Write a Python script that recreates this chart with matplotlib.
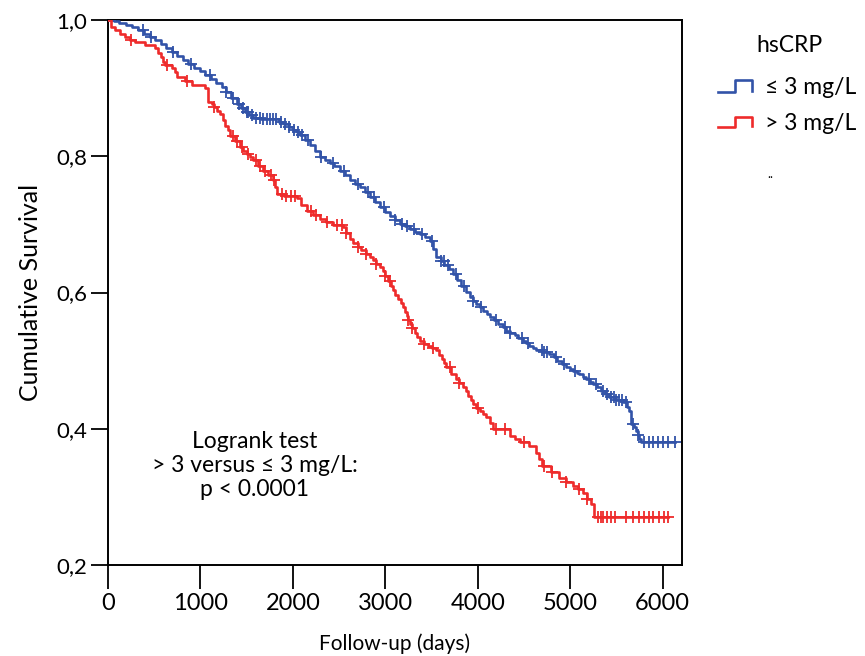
import matplotlib
matplotlib.use("Agg")
import matplotlib.pyplot as plt
import numpy as np
from matplotlib.lines import Line2D

plt.rcParams['font.family'] = ['Lato', 'DejaVu Sans']

# ---- data ----
group_labels = ["\u2264 3 mg/L", "> 3 mg/L"]
legend_title = "hsCRP"

low_times = [0, 60, 120, 200, 260, 325, 390, 450, 510, 570, 630, 690, 750, 810, 870, 930, 990,
             1050, 1110, 1170, 1230, 1280, 1330, 1393, 1440, 1480, 1530, 1570, 1650, 1850, 1900,
             1960, 2000, 2040, 2077, 2130, 2185, 2240, 2293, 2350, 2400, 2450, 2508, 2560, 2617,
             2670, 2725, 2780, 2830, 2885, 2940, 3000, 3050, 3100, 3157, 3210, 3270, 3320, 3373,
             3430, 3480, 3520, 3553, 3600, 3640, 3690, 3730, 3780, 3820, 3870, 3913, 3950, 3985,
             4020, 4060, 4100, 4130, 4180, 4220, 4270, 4310, 4350, 4400, 4440, 4488, 4520, 4560,
             4600, 4633, 4700, 4776, 4820, 4860, 4910, 4957, 5000, 5030, 5070, 5100, 5140, 5170,
             5210, 5244, 5290, 5330, 5380, 5425, 5500, 5568, 5610, 5640, 5660, 5690, 5712, 5730,
             5748, 5766]
low_surv = [1.0, 0.998, 0.995, 0.992, 0.989, 0.985, 0.980, 0.975, 0.970, 0.965, 0.959, 0.953,
            0.947, 0.942, 0.936, 0.930, 0.925, 0.919, 0.913, 0.908, 0.902, 0.894, 0.886, 0.877,
            0.871, 0.865, 0.860, 0.856, 0.855, 0.851, 0.848, 0.843, 0.838, 0.835, 0.831, 0.824,
            0.816, 0.808, 0.799, 0.795, 0.790, 0.785, 0.779, 0.772, 0.765, 0.760, 0.755, 0.748,
            0.740, 0.733, 0.725, 0.718, 0.712, 0.707, 0.701, 0.697, 0.693, 0.689, 0.686, 0.681,
            0.676, 0.664, 0.652, 0.646, 0.640, 0.634, 0.627, 0.618, 0.610, 0.601, 0.593, 0.588,
            0.583, 0.578, 0.573, 0.568, 0.564, 0.559, 0.554, 0.549, 0.544, 0.541, 0.537, 0.533,
            0.529, 0.526, 0.522, 0.518, 0.515, 0.513, 0.510, 0.505, 0.500, 0.495, 0.490, 0.487,
            0.485, 0.482, 0.480, 0.476, 0.473, 0.469, 0.466, 0.461, 0.456, 0.451, 0.446, 0.442,
            0.439, 0.432, 0.426, 0.407, 0.402, 0.397, 0.391, 0.385, 0.380]
low_end = 6130
low_censor = [380, 470, 700, 900, 1100, 1280, 1350, 1420, 1460, 1500, 1520, 1560, 1600, 1640,
              1680, 1720, 1750, 1780, 1820, 1870, 1910, 1960, 2010, 2060, 2100, 2160, 2300,
              2430, 2550, 2700, 2810, 2880, 2990, 3100, 3180, 3230, 3310, 3400, 3500, 3600,
              3630, 3680, 3770, 3850, 3950, 4040, 4200, 4290, 4350, 4480, 4540, 4690, 4720,
              4750, 4850, 4930, 5050, 5200, 5280, 5350, 5400, 5440, 5470, 5500, 5530, 5560,
              5600, 5680, 5730, 5800, 5850, 5900, 5950, 6000, 6060, 6130]

high_times = [0, 30, 80, 130, 185, 240, 295, 400, 510, 540, 570, 600, 620, 690, 720, 745, 830,
              907, 1050, 1083, 1120, 1150, 1180, 1213, 1240, 1267, 1295, 1320, 1375, 1430, 1465,
              1500, 1535, 1570, 1625, 1680, 1730, 1785, 1805, 1825, 1900, 2040, 2090, 2150, 2220,
              2293, 2360, 2435, 2543, 2580, 2617, 2650, 2700, 2740, 2790, 2833, 2870, 2900, 2940,
              2975, 3000, 3030, 3060, 3083, 3110, 3140, 3165, 3190, 3210, 3230, 3250, 3265, 3290,
              3320, 3345, 3373, 3420, 3460, 3510, 3553, 3580, 3610, 3635, 3661, 3710, 3760, 3800,
              3840, 3870, 3900, 3925, 3948, 3985, 4020, 4060, 4093, 4130, 4164, 4345, 4400, 4452,
              4560, 4633, 4665, 4700, 4790, 4884, 4950, 5028, 5080, 5136, 5180, 5226, 5262]
high_surv = [1.0, 0.990, 0.985, 0.980, 0.975, 0.971, 0.968, 0.964, 0.959, 0.952, 0.945, 0.939,
             0.934, 0.930, 0.923, 0.917, 0.911, 0.904, 0.900, 0.880, 0.876, 0.872, 0.867, 0.862,
             0.853, 0.845, 0.838, 0.830, 0.822, 0.813, 0.808, 0.803, 0.799, 0.794, 0.786, 0.779,
             0.772, 0.765, 0.755, 0.745, 0.742, 0.738, 0.728, 0.720, 0.714, 0.708, 0.704, 0.699,
             0.696, 0.687, 0.678, 0.672, 0.667, 0.662, 0.657, 0.652, 0.647, 0.642, 0.637, 0.632,
             0.624, 0.617, 0.610, 0.603, 0.597, 0.590, 0.584, 0.578, 0.572, 0.566, 0.560, 0.554,
             0.548, 0.541, 0.535, 0.529, 0.525, 0.522, 0.518, 0.515, 0.508, 0.502, 0.496, 0.490,
             0.481, 0.473, 0.467, 0.461, 0.455, 0.448, 0.442, 0.436, 0.431, 0.426, 0.421, 0.417,
             0.408, 0.400, 0.390, 0.385, 0.380, 0.375, 0.365, 0.355, 0.345, 0.337, 0.328, 0.322,
             0.316, 0.311, 0.305, 0.297, 0.290, 0.270]
high_end = 6060
high_censor = [250, 640, 850, 1150, 1350, 1400, 1450, 1520, 1600, 1640, 1700, 1760, 1800, 1880,
               1930, 1980, 2020, 2200, 2250, 2370, 2480, 2530, 2580, 2700, 2790, 2900, 3000,
               3050, 3250, 3290, 3420, 3520, 3700, 3800, 4000, 4200, 4290, 4500, 4720, 4800,
               4950, 5100, 5180, 5300, 5330, 5360, 5400, 5440, 5480, 5600, 5680, 5740, 5800,
               5850, 5900, 5960, 6020, 6060]

x_ticks = [0, 1000, 2000, 3000, 4000, 5000, 6000]
y_ticks = [0.2, 0.4, 0.6, 0.8, 1.0]
y_ticklabels = ["0,2", "0,4", "0,6", "0,8", "1,0"]

blue = "#3253A8"
red = "#EE2B2B"

fig = plt.figure(figsize=(8.65, 6.56), dpi=100)
W, H = 865, 656
ax = fig.add_axes([108 / W, 1 - 565 / H, (682 - 108) / W, (565 - 20) / H])


def draw_km(times, surv, end, censor, color):
    t = np.array(list(times) + [end], dtype=float)
    s = np.array(list(surv) + [surv[-1]], dtype=float)
    ax.step(t, s, where="post", color=color, lw=1.9, zorder=3)
    c = np.array(censor, dtype=float)
    idx = np.searchsorted(np.array(times, dtype=float), c, side="right") - 1
    cs = np.array(surv)[idx]
    ax.plot(c, cs, ls="none", marker="+", ms=8, mew=1.3, color=color, zorder=4)


draw_km(low_times, low_surv, low_end, low_censor, blue)
draw_km(high_times, high_surv, high_end, high_censor, red)

ax.set_xlim(0, 6210)
ax.set_ylim(0.2, 1.0)
ax.set_xticks(x_ticks)
ax.set_xticklabels([str(v) for v in x_ticks])
ax.set_yticks(y_ticks)
ax.set_yticklabels(y_ticklabels)
ax.tick_params(axis="x", length=17, width=1.3, labelsize=17, pad=3)
ax.tick_params(axis="y", length=12, width=1.3, labelsize=16, pad=3)
for sp in ax.spines.values():
    sp.set_linewidth(1.4)
    sp.set_color("black")

ax.set_xlabel("Follow-up (days)", fontsize=15, labelpad=14)
ax.set_ylabel("Cumulative Survival", fontsize=18, labelpad=10)

ax.text(1590, 0.346, "Logrank test\n> 3 versus \u2264 3 mg/L:\np < 0.0001",
        ha="center", va="center", fontsize=16.5, linespacing=1.2)

# legend, drawn by hand
fig.text(790 / W, 1 - 45 / H, legend_title, ha="center", va="center", fontsize=16.5)
rows = [(blue, 91.5, 80.0, 88.0), (red, 127.0, 116.5, 123.0)]
for (col, ylow, yhigh, ytext), lab in zip(rows, group_labels):
    xs = np.array([718, 735, 735, 752, 752]) / W
    ys = 1 - np.array([ylow, ylow, yhigh, yhigh, ylow - 1]) / H
    fig.add_artist(Line2D(xs, ys, color=col, lw=1.9, transform=fig.transFigure))
    fig.text(765 / W, 1 - ytext / H, lab, ha="left", va="center", fontsize=16.5)
fig.text(770 / W, 1 - 174 / H, "..", ha="center", va="center", fontsize=9)

fig.savefig("out.png", dpi=100)
